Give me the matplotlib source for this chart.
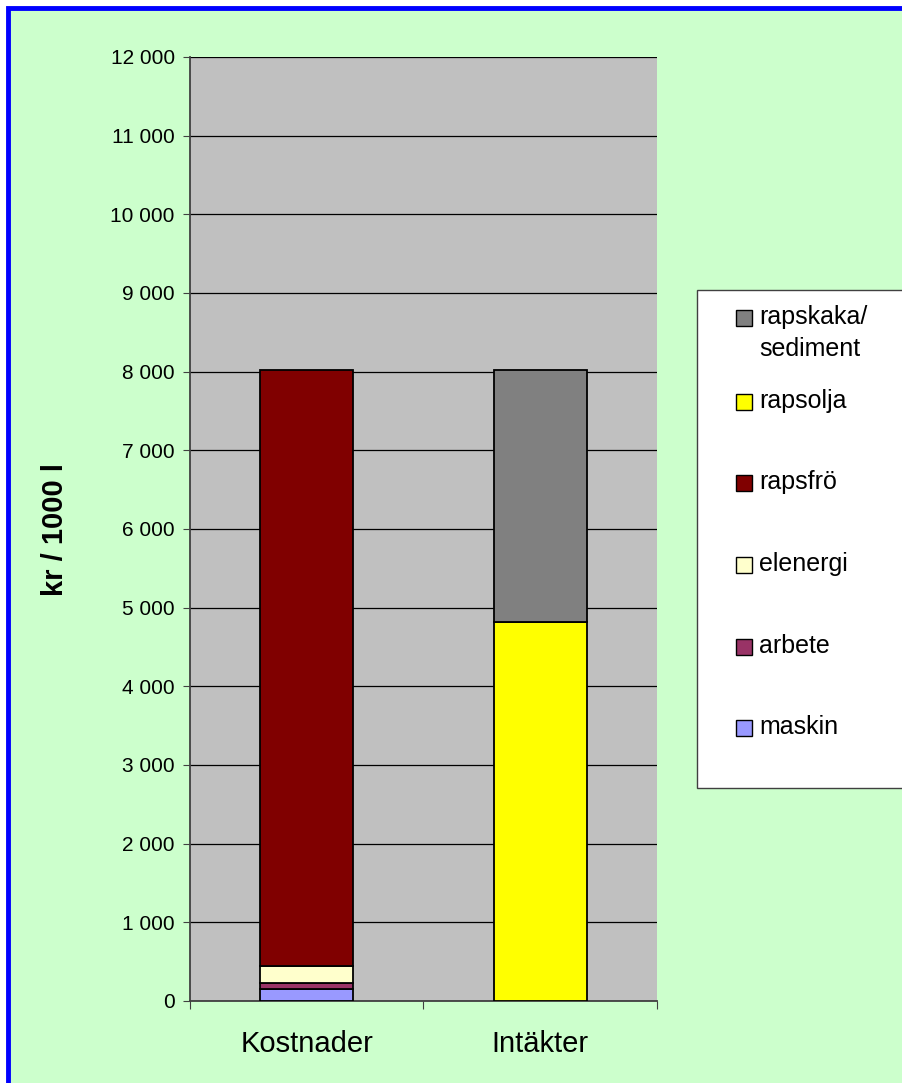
import matplotlib
matplotlib.use("Agg")
import matplotlib.pyplot as plt
from matplotlib.patches import Rectangle
import numpy as np

plt.rcParams['font.family'] = ['Liberation Sans', 'DejaVu Sans']

categories = ["Kostnader", "Intäkter"]

# Cost components (kr / 1000 l) for the first column, bottom to top
cost_labels = ["maskin", "arbete", "elenergi", "rapsfrö"]
cost_values = [150, 85, 210, 7575]
cost_colors = ["#9999FF", "#993366", "#FFFFCC", "#800000"]

# Income components for the second column, bottom to top
income_labels = ["rapsolja", "rapskaka/\nsediment"]
income_values = [4820, 3200]
income_colors = ["#FFFF00", "#808080"]

y_ticks = list(range(0, 12001, 1000))
y_ticklabels = ["0" if v == 0 else f"{v // 1000} 000" for v in y_ticks]

W, H = 903, 1083
fig = plt.figure(figsize=(W / 100, H / 100), dpi=100)
fig.patch.set_facecolor("white")

# Green panel with blue frame
fig.patches.append(Rectangle((8 / W, -0.02), 1.05, 1 - 8 / H + 0.02,
                             transform=fig.transFigure, facecolor="#CCFFCC",
                             edgecolor="#0000FF", linewidth=3.5, zorder=-5))

ax = fig.add_axes([190 / W, 1 - 1001 / H, (657 - 190) / W, (1001 - 57) / H])
ax.set_zorder(1)
ax.set_facecolor("#C0C0C0")

x = np.arange(len(categories))
bar_w = 0.4

bottom = 0
for val, col in zip(cost_values, cost_colors):
    ax.bar(x[0], val, bar_w, bottom=bottom, color=col, edgecolor="black",
           linewidth=1.3, zorder=3)
    bottom += val

bottom = 0
for val, col in zip(income_values, income_colors):
    ax.bar(x[1], val, bar_w, bottom=bottom, color=col, edgecolor="black",
           linewidth=1.3, zorder=3)
    bottom += val

ax.set_xlim(-0.5, 1.5)
ax.set_ylim(0, 12000)
ax.set_yticks(y_ticks)
ax.set_yticklabels(y_ticklabels, fontsize=15)
ax.yaxis.grid(True, color="black", linewidth=0.9, zorder=1)
ax.set_axisbelow(True)

ax.set_xticks([-0.5, 0.5, 1.5])
ax.set_xticklabels([])
ax.set_xticks(x, minor=True)
ax.set_xticklabels(categories, minor=True, fontsize=21)
ax.tick_params(axis="x", which="minor", length=0, pad=21)
ax.tick_params(axis="x", which="major", length=6, direction="out", color="#404040")
ax.tick_params(axis="y", length=5, direction="out", color="#404040", pad=6)

for s in ("top", "right"):
    ax.spines[s].set_visible(False)
for s in ("left", "bottom"):
    ax.spines[s].set_color("#404040")
    ax.spines[s].set_linewidth(1.3)

ax.set_ylabel("kr / 1000 l", fontsize=21, fontweight="bold", labelpad=30)

# Legend panel
fig.patches.append(Rectangle((697 / W, 1 - 788 / H), 0.5, (788 - 290) / H,
                             transform=fig.transFigure, facecolor="white",
                             edgecolor="#404040", linewidth=1.0, zorder=2))

legend_labels = income_labels[::-1] + cost_labels[::-1]
legend_colors = income_colors[::-1] + cost_colors[::-1]
row_y = [318, 402, 483, 565, 647, 728]
sq = 16
for lab, col, yy in zip(legend_labels, legend_colors, row_y):
    fig.patches.append(Rectangle((736 / W, 1 - (yy + sq / 2) / H), sq / W, sq / H,
                                 transform=fig.transFigure, facecolor=col,
                                 edgecolor="black", linewidth=1.0, zorder=3))
    for i, line in enumerate(lab.split("\n")):
        fig.text(759 / W, 1 - (yy + 6 + 32 * i) / H, line, fontsize=18,
                 va="baseline", ha="left", zorder=4)

fig.savefig("out.png", dpi=100, facecolor=fig.get_facecolor())
